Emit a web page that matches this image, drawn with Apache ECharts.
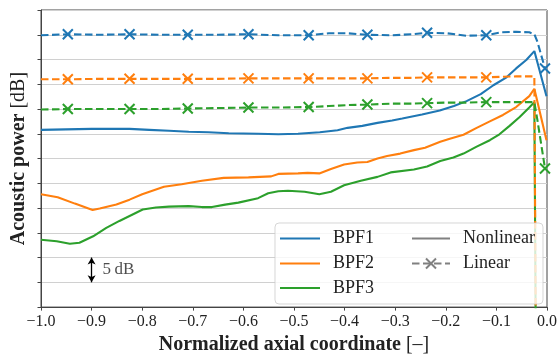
<!DOCTYPE html>
<html>
<head>
<meta charset="utf-8">
<script src="https://cdn.jsdelivr.net/npm/echarts@6/dist/echarts.min.js"></script>
<style>
  html, body { margin: 0; padding: 0; background: #fff; }
  #chart { width: 560px; height: 360px; }
</style>
</head>
<body>
<div id="chart"></div>
<script>
// Acoustic power along the normalized axial coordinate, three blade-passing
// frequencies, nonlinear (solid) vs linear (dashed with x markers).

const xTicks = [-1.0, -0.9, -0.8, -0.7, -0.6, -0.5, -0.4, -0.3, -0.2, -0.1, 0.0];

// Nonlinear results
const bpf1NonX = [-1.0, -0.951, -0.9, -0.851, -0.825, -0.786, -0.747, -0.708, -0.669, -0.629, -0.571, -0.531, -0.492, -0.449, -0.414, -0.394, -0.365, -0.335, -0.306, -0.286, -0.247, -0.212, -0.184, -0.159, -0.131, -0.106, -0.080, -0.061, -0.041, -0.025, -0.001];
const bpf1NonY = [35.8, 35.9, 36.0, 36.0, 36.0, 35.8, 35.6, 35.4, 35.3, 35.1, 35.0, 34.9, 35.0, 35.3, 35.7, 36.2, 36.6, 37.2, 37.7, 38.1, 38.9, 39.7, 40.6, 41.6, 43.0, 44.8, 46.4, 48.2, 49.9, 51.7, 42.6];

const bpf2NonX = [-1.0, -0.967, -0.933, -0.898, -0.884, -0.851, -0.825, -0.8, -0.757, -0.722, -0.682, -0.639, -0.590, -0.545, -0.531, -0.492, -0.473, -0.450, -0.427, -0.401, -0.375, -0.355, -0.335, -0.316, -0.290, -0.263, -0.241, -0.211, -0.192, -0.165, -0.139, -0.113, -0.087, -0.061, -0.035, -0.025, -0.001];
const bpf2NonY = [22.8, 22.2, 20.9, 19.6, 19.9, 20.7, 21.7, 22.8, 24.3, 24.8, 25.5, 26.1, 26.2, 26.4, 26.9, 27.0, 27.1, 27.0, 27.9, 28.8, 29.2, 29.3, 30.0, 30.5, 31.0, 31.7, 32.2, 33.4, 34.0, 34.8, 36.2, 37.5, 38.8, 40.4, 42.6, 44.1, 33.7];

const bpf3NonX = [-1.0, -0.969, -0.943, -0.924, -0.897, -0.871, -0.845, -0.819, -0.799, -0.773, -0.747, -0.708, -0.682, -0.662, -0.636, -0.610, -0.571, -0.551, -0.531, -0.512, -0.479, -0.450, -0.427, -0.401, -0.368, -0.335, -0.309, -0.263, -0.237, -0.211, -0.185, -0.165, -0.139, -0.113, -0.094, -0.074, -0.054, -0.035, -0.025, -0.019];
const bpf3NonY = [13.6, 13.3, 12.8, 13.0, 14.3, 16.0, 17.4, 18.7, 19.7, 20.1, 20.3, 20.4, 20.2, 20.2, 20.7, 21.1, 22.0, 23.0, 23.4, 23.5, 23.3, 22.8, 23.3, 24.6, 25.5, 26.3, 27.2, 27.8, 28.4, 29.5, 30.2, 31.0, 32.4, 33.7, 34.9, 36.6, 38.4, 40.3, 41.4, -60];

// Linear results (shared axial grid)
const linX = [-1.0, -0.947, -0.886, -0.825, -0.768, -0.710, -0.650, -0.590, -0.531, -0.471, -0.431, -0.394, -0.355, -0.306, -0.267, -0.237, -0.198, -0.159, -0.120, -0.090, -0.061, -0.035, -0.025, -0.019, -0.004];
const linMarkerX = [-0.947, -0.825, -0.710, -0.590, -0.471, -0.355, -0.237, -0.120, -0.004];
const bpf1LinY = [54.9, 55.1, 55.0, 55.1, 55.0, 55.0, 55.0, 55.1, 54.9, 54.9, 55.3, 55.3, 55.0, 54.9, 55.1, 55.4, 55.3, 54.8, 54.9, 55.5, 55.6, 55.5, 55.1, 53.6, 48.2];
const bpf2LinY = [46.0, 46.0, 46.1, 46.1, 46.1, 46.1, 46.1, 46.2, 46.2, 46.2, 46.2, 46.2, 46.2, 46.3, 46.3, 46.4, 46.4, 46.4, 46.4, 46.5, 46.6, 46.6, 46.6, -60, -60];
const bpf3LinY = [39.9, 40.0, 40.0, 40.0, 40.0, 40.1, 40.2, 40.3, 40.3, 40.4, 40.6, 40.8, 40.9, 41.1, 41.1, 41.2, 41.3, 41.3, 41.4, 41.4, 41.4, 41.4, 41.4, 37.8, 28.0];

// Scale bar: 5 dB
const scaleBarX = -0.9;
const scaleBarFrom = 5;
const scaleBarTo = 10;
const scaleBarText = '5\u2009dB';

const labels = ['BPF1', 'BPF2', 'BPF3'];
const typeLabels = ['Nonlinear', 'Linear'];
const colors = ['#1f77b4', '#ff7f0e', '#2ca02c'];

const SERIF = '"Liberation Serif", "DejaVu Serif", serif';
const CROSS = 'path://M0,0L10,10M10,0L0,10';

function pairs(xs, ys) {
  return xs.map((x, i) => [x, ys[i]]);
}

function linearData(ys) {
  return linX.map((x, i) => {
    const marked = linMarkerX.indexOf(x) >= 0;
    return { value: [x, ys[i]], symbol: marked ? CROSS : 'none' };
  });
}

function fmtTick(v) {
  const s = Math.abs(v).toFixed(1);
  return (v < -1e-9 ? '\u2212' : '') + s;
}

const nonlinear = [pairs(bpf1NonX, bpf1NonY), pairs(bpf2NonX, bpf2NonY), pairs(bpf3NonX, bpf3NonY)];
const linear = [linearData(bpf1LinY), linearData(bpf2LinY), linearData(bpf3LinY)];

const series = [];
for (let k = 0; k < 3; k++) {
  series.push({
    type: 'line', name: labels[k] + ' nonlinear', data: nonlinear[k],
    symbol: 'none', clip: true, z: 3,
    lineStyle: { color: colors[k], width: 2.1 }
  });
}
for (let k = 0; k < 3; k++) {
  series.push({
    type: 'line', name: labels[k] + ' linear', data: linear[k],
    symbol: CROSS, symbolSize: 10, showSymbol: true, clip: true, z: 3,
    lineStyle: { color: colors[k], width: 2.1, type: [7.5, 3.5] },
    itemStyle: { color: colors[k], borderColor: colors[k], borderWidth: 2 }
  });
}
// scale bar with its label
series.push({
  type: 'scatter', name: 'scale',
  data: [[scaleBarX, (scaleBarFrom + scaleBarTo) / 2]],
  symbolSize: 0, z: 4,
  label: {
    show: true, position: 'right', distance: 11,
    formatter: scaleBarText, fontFamily: SERIF, fontSize: 17, color: '#222'
  },
  markLine: {
    silent: true, animation: false,
    symbol: ['arrow', 'arrow'], symbolSize: [6, 7],
    lineStyle: { color: '#000', width: 1.3, type: 'solid' },
    label: { show: false },
    data: [[{ coord: [scaleBarX, scaleBarFrom] }, { coord: [scaleBarX, scaleBarTo] }]]
  }
});

// legend drawn as a framed box with two columns
const L = { x: 275, y: 223, w: 268, h: 81, rows: [238.5, 263.5, 288], c1: 280, c2: 412 };
const legend = [{
  type: 'rect', z: 50,
  shape: { x: L.x, y: L.y, width: L.w, height: L.h, r: 4 },
  style: { fill: 'rgba(255,255,255,0.8)', stroke: 'rgba(204,204,204,0.8)', lineWidth: 1 }
}];
labels.forEach((t, i) => {
  legend.push({
    type: 'line', z: 51,
    shape: { x1: L.c1, y1: L.rows[i], x2: L.c1 + 40, y2: L.rows[i] },
    style: { stroke: colors[i], lineWidth: 2 }
  });
  legend.push({
    type: 'text', z: 51, x: L.c1 + 53, y: L.rows[i],
    style: { text: t, fontFamily: SERIF, fontSize: 18, fill: '#222', verticalAlign: 'middle' }
  });
});
legend.push({
  type: 'line', z: 51,
  shape: { x1: L.c2, y1: L.rows[0], x2: L.c2 + 38, y2: L.rows[0] },
  style: { stroke: '#808080', lineWidth: 2 }
});
legend.push({
  type: 'line', z: 51,
  shape: { x1: L.c2, y1: L.rows[1], x2: L.c2 + 38, y2: L.rows[1] },
  style: { stroke: '#808080', lineWidth: 2, lineDash: [7.5, 3.5] }
});
// cross marker of the dashed legend entry
const cx = L.c2 + 19, cy = L.rows[1];
legend.push({
  type: 'line', z: 52,
  shape: { x1: cx - 5, y1: cy - 5, x2: cx + 5, y2: cy + 5 },
  style: { stroke: '#808080', lineWidth: 2 }
});
legend.push({
  type: 'line', z: 52,
  shape: { x1: cx + 5, y1: cy - 5, x2: cx - 5, y2: cy + 5 },
  style: { stroke: '#808080', lineWidth: 2 }
});
typeLabels.forEach((t, i) => {
  legend.push({
    type: 'text', z: 51, x: L.c2 + 51, y: L.rows[i],
    style: { text: t, fontFamily: SERIF, fontSize: 18, fill: '#222', verticalAlign: 'middle' }
  });
});

const chart = echarts.init(document.getElementById('chart'), null, { renderer: 'canvas' });
chart.setOption({
  animation: false,
  backgroundColor: '#fff',
  grid: {
    left: 41, right: 8, top: 10, bottom: 46,
    show: true, borderColor: '#444', borderWidth: 1, backgroundColor: 'transparent'
  },
  xAxis: {
    type: 'value', min: xTicks[0], max: xTicks[xTicks.length - 1], interval: 0.1,
    name: 'Normalized axial coordinate {n|[\u2013]}',
    nameLocation: 'middle', nameGap: 26,
    nameTextStyle: {
      fontFamily: SERIF, fontSize: 20, fontWeight: 'bold', color: '#222',
      rich: { n: { fontFamily: SERIF, fontSize: 20, fontWeight: 'normal', color: '#222' } }
    },
    axisLine: { show: true, onZero: false, lineStyle: { color: '#444', width: 1 } },
    axisTick: { show: true, inside: false, length: 3.5, lineStyle: { color: '#444' } },
    axisLabel: { formatter: fmtTick, fontFamily: SERIF, fontSize: 16, color: '#222', margin: 7 },
    splitLine: { show: false }
  },
  yAxis: {
    type: 'value', min: 0, max: 60, interval: 5,
    name: 'Acoustic power {n|[dB]}',
    nameLocation: 'middle', nameGap: 12,
    nameTextStyle: {
      fontFamily: SERIF, fontSize: 20, fontWeight: 'bold', color: '#222',
      rich: { n: { fontFamily: SERIF, fontSize: 20, fontWeight: 'normal', color: '#222' } }
    },
    axisLine: { show: true, onZero: false, lineStyle: { color: '#444', width: 1 } },
    axisTick: { show: true, inside: false, length: 3.5, lineStyle: { color: '#444' } },
    axisLabel: { show: false },
    splitLine: { show: true, lineStyle: { color: '#d0d0d0', width: 1 } }
  },
  series: series,
  graphic: legend
});
</script>
</body>
</html>
